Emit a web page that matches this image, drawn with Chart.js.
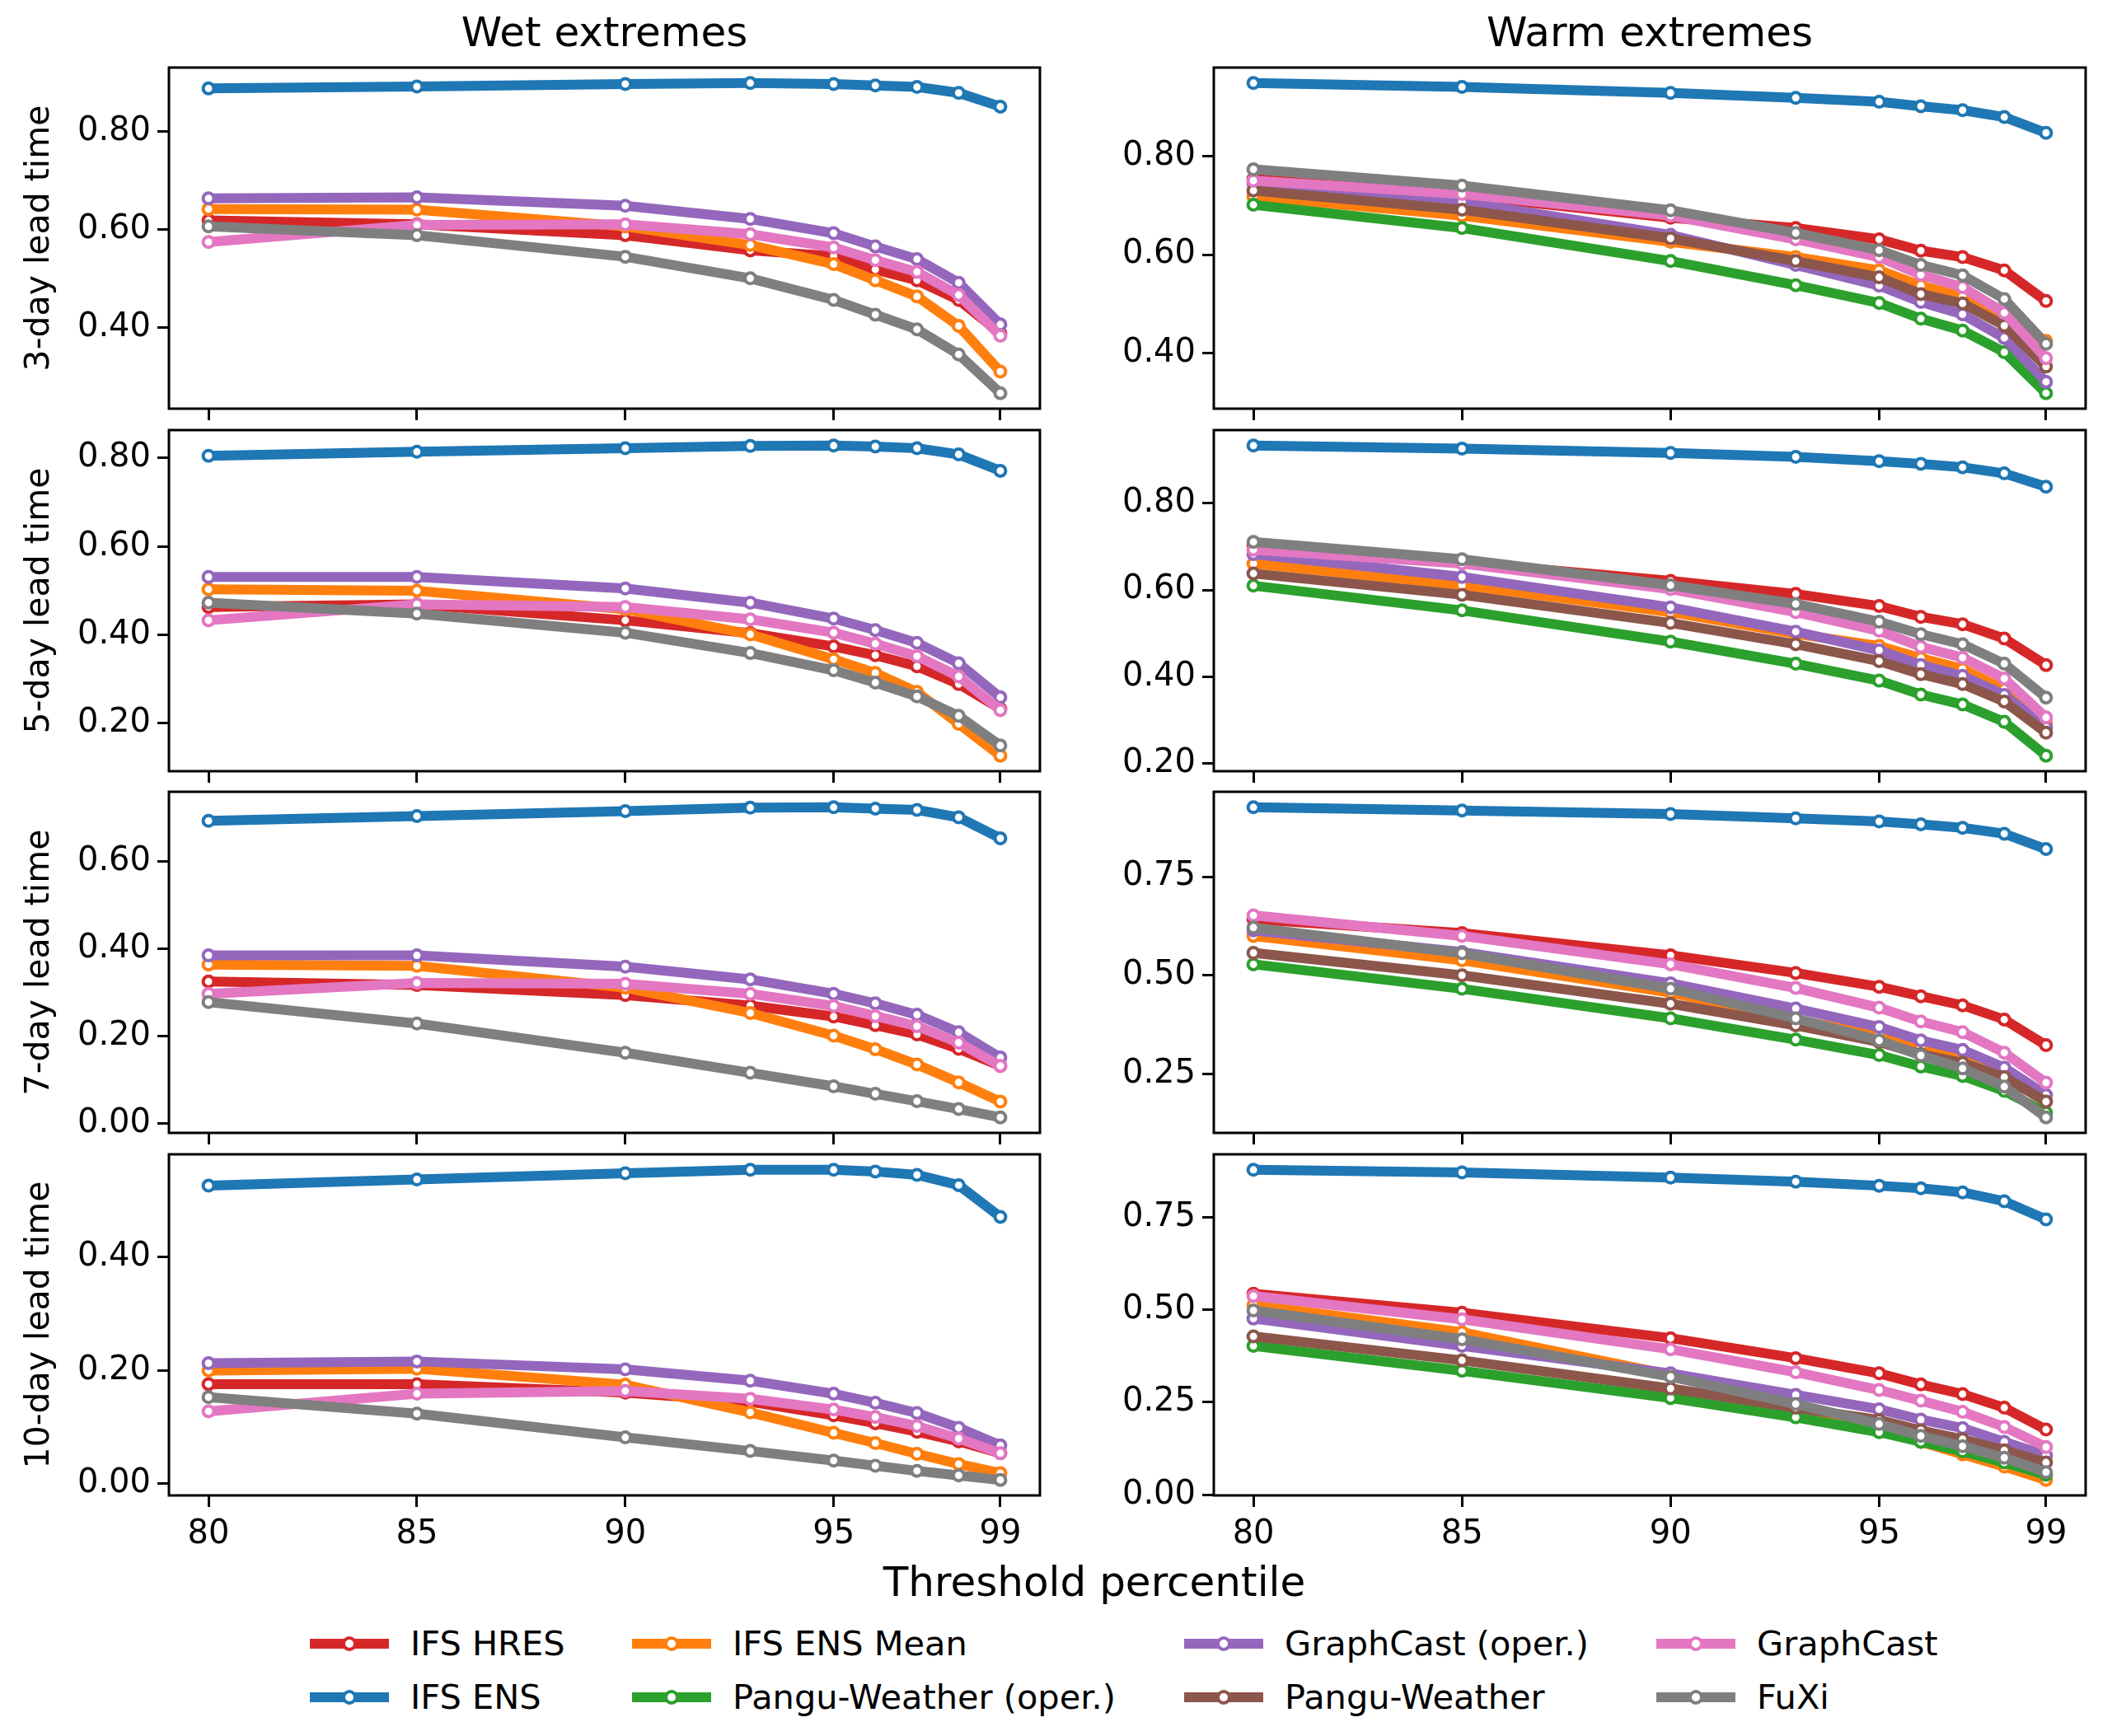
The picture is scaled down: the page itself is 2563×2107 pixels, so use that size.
<!DOCTYPE html>
<html>
<head>
<meta charset="utf-8">
<script src="https://cdn.jsdelivr.net/npm/chart.js@4.4.1/dist/chart.umd.min.js"></script>
<style>
  body { margin: 0; background: #fff; font-family: 'DejaVu Sans', sans-serif; }
  #fig { position: relative; width: 2563px; height: 2107px; overflow: hidden; }
  .panel { position: absolute; }
  .txt { position: absolute; color: #000; white-space: nowrap; line-height: 1; }
  .title { font-size: 50px; transform: translate(-50%, -50%); }
  .ylab { font-size: 41px; transform: translate(-50%, -50%) rotate(-90deg); }
  .leg { position: absolute; height: 60px; }
  .leg .ln { position: absolute; left: 0; top: 24px; width: 96px; height: 12px; }
  .leg .mk { position: absolute; left: 39px; top: 21px; width: 10px; height: 10px; border-radius: 50%; background: #fff; border-width: 4px; border-style: solid; }
  .leg .lt { position: absolute; left: 122px; top: 10px; font-size: 41.5px; line-height: 40px; white-space: nowrap; }
</style>
</head>
<body>
<div id="fig"></div>
<script>
// x positions (threshold percentiles) and axis ticks
const percentiles = [80, 85, 90, 93, 95, 96, 97, 98, 99];
const xTicks = [80, 85, 90, 95, 99];

const models = ['IFS HRES', 'IFS ENS', 'IFS ENS Mean', 'Pangu-Weather (oper.)',
                'GraphCast (oper.)', 'Pangu-Weather', 'GraphCast', 'FuXi'];
const colors = ['#d62728', '#1f77b4', '#ff7f0e', '#2ca02c',
                '#9467bd', '#8c564b', '#e377c2', '#7f7f7f'];

const columnTitles = ['Wet extremes', 'Warm extremes'];
const rowLabels = ['3-day lead time', '5-day lead time', '7-day lead time', '10-day lead time'];

// Wet extremes, 3-day
const wet3Hres   = [0.618, 0.610, 0.588, 0.557, 0.545, 0.518, 0.496, 0.456, 0.388];
const wet3Ens    = [0.887, 0.891, 0.896, 0.898, 0.896, 0.893, 0.890, 0.878, 0.850];
const wet3Mean   = [0.641, 0.640, 0.606, 0.568, 0.529, 0.496, 0.463, 0.403, 0.310];
const wet3GcOper = [0.663, 0.665, 0.648, 0.621, 0.592, 0.565, 0.539, 0.491, 0.406];
const wet3Gc     = [0.574, 0.609, 0.610, 0.590, 0.563, 0.537, 0.513, 0.466, 0.383];
const wet3Fuxi   = [0.606, 0.588, 0.544, 0.500, 0.456, 0.426, 0.396, 0.345, 0.266];
const wet3Ticks  = [0.4, 0.6, 0.8];

// Warm extremes, 3-day
const warm3Hres      = [0.754, 0.720, 0.675, 0.654, 0.631, 0.608, 0.595, 0.568, 0.506];
const warm3Ens       = [0.948, 0.940, 0.928, 0.918, 0.910, 0.901, 0.893, 0.879, 0.847];
const warm3Mean      = [0.718, 0.679, 0.626, 0.595, 0.568, 0.537, 0.515, 0.470, 0.425];
const warm3PanguOper = [0.701, 0.654, 0.587, 0.538, 0.502, 0.470, 0.446, 0.402, 0.319];
const warm3GcOper    = [0.745, 0.707, 0.640, 0.579, 0.537, 0.504, 0.479, 0.431, 0.342];
const warm3Pangu     = [0.730, 0.691, 0.633, 0.587, 0.554, 0.520, 0.501, 0.456, 0.373];
const warm3Gc        = [0.750, 0.723, 0.679, 0.631, 0.595, 0.559, 0.534, 0.482, 0.390];
const warm3Fuxi      = [0.773, 0.740, 0.690, 0.644, 0.609, 0.579, 0.558, 0.510, 0.419];
const warm3Ticks     = [0.4, 0.6, 0.8];

// Wet extremes, 5-day
const wet5Hres   = [0.463, 0.469, 0.433, 0.404, 0.374, 0.354, 0.329, 0.289, 0.233];
const wet5Ens    = [0.805, 0.814, 0.822, 0.827, 0.828, 0.826, 0.822, 0.808, 0.771];
const wet5Mean   = [0.503, 0.500, 0.458, 0.401, 0.345, 0.314, 0.271, 0.199, 0.127];
const wet5GcOper = [0.531, 0.531, 0.505, 0.473, 0.437, 0.411, 0.382, 0.336, 0.259];
const wet5Gc     = [0.433, 0.469, 0.463, 0.435, 0.405, 0.380, 0.352, 0.306, 0.230];
const wet5Fuxi   = [0.473, 0.448, 0.405, 0.359, 0.320, 0.292, 0.261, 0.217, 0.150];
const wet5Ticks  = [0.2, 0.4, 0.6, 0.8];

// Warm extremes, 5-day
const warm5Hres      = [0.702, 0.664, 0.621, 0.591, 0.563, 0.538, 0.521, 0.488, 0.427];
const warm5Ens       = [0.933, 0.926, 0.916, 0.907, 0.897, 0.891, 0.883, 0.869, 0.838];
const warm5Mean      = [0.661, 0.611, 0.549, 0.499, 0.471, 0.443, 0.418, 0.371, 0.293];
const warm5PanguOper = [0.610, 0.553, 0.481, 0.430, 0.391, 0.359, 0.336, 0.296, 0.218];
const warm5GcOper    = [0.683, 0.630, 0.560, 0.504, 0.461, 0.427, 0.402, 0.358, 0.283];
const warm5Pangu     = [0.638, 0.589, 0.524, 0.475, 0.436, 0.406, 0.383, 0.343, 0.271];
const warm5Gc        = [0.693, 0.661, 0.602, 0.549, 0.506, 0.469, 0.444, 0.396, 0.306];
const warm5Fuxi      = [0.711, 0.671, 0.611, 0.568, 0.527, 0.498, 0.475, 0.430, 0.352];
const warm5Ticks     = [0.2, 0.4, 0.6, 0.8];

// Wet extremes, 7-day
const wet7Hres   = [0.325, 0.317, 0.294, 0.270, 0.245, 0.225, 0.204, 0.171, 0.132];
const wet7Ens    = [0.693, 0.704, 0.715, 0.723, 0.724, 0.721, 0.718, 0.701, 0.653];
const wet7Mean   = [0.364, 0.361, 0.311, 0.253, 0.201, 0.170, 0.135, 0.094, 0.050];
const wet7GcOper = [0.385, 0.385, 0.359, 0.330, 0.297, 0.275, 0.249, 0.209, 0.151];
const wet7Gc     = [0.297, 0.322, 0.320, 0.297, 0.269, 0.246, 0.223, 0.185, 0.132];
const wet7Fuxi   = [0.278, 0.229, 0.162, 0.116, 0.085, 0.068, 0.051, 0.033, 0.014];
const wet7Ticks  = [0.0, 0.2, 0.4, 0.6];

// Warm extremes, 7-day
const warm7Hres      = [0.642, 0.607, 0.551, 0.506, 0.471, 0.447, 0.424, 0.388, 0.323];
const warm7Ens       = [0.926, 0.918, 0.909, 0.898, 0.890, 0.883, 0.874, 0.859, 0.820];
const warm7Mean      = [0.600, 0.538, 0.456, 0.387, 0.349, 0.318, 0.287, 0.245, 0.180];
const warm7PanguOper = [0.528, 0.466, 0.391, 0.337, 0.298, 0.269, 0.245, 0.207, 0.152];
const warm7GcOper    = [0.614, 0.559, 0.480, 0.416, 0.369, 0.335, 0.311, 0.266, 0.197];
const warm7Pangu     = [0.557, 0.500, 0.428, 0.373, 0.331, 0.300, 0.278, 0.242, 0.180];
const warm7Gc        = [0.652, 0.600, 0.528, 0.468, 0.418, 0.383, 0.356, 0.304, 0.228];
const warm7Fuxi      = [0.621, 0.556, 0.466, 0.391, 0.335, 0.297, 0.264, 0.218, 0.140];
const warm7Ticks     = [0.25, 0.5, 0.75];

// Wet extremes, 10-day
const wet10Hres   = [0.176, 0.176, 0.161, 0.145, 0.121, 0.107, 0.092, 0.075, 0.054];
const wet10Ens    = [0.526, 0.537, 0.548, 0.554, 0.554, 0.551, 0.545, 0.527, 0.471];
const wet10Mean   = [0.200, 0.203, 0.175, 0.126, 0.090, 0.072, 0.053, 0.035, 0.019];
const wet10GcOper = [0.213, 0.216, 0.202, 0.182, 0.159, 0.143, 0.125, 0.099, 0.068];
const wet10Gc     = [0.128, 0.159, 0.164, 0.150, 0.131, 0.118, 0.102, 0.080, 0.054];
const wet10Fuxi   = [0.153, 0.124, 0.082, 0.058, 0.041, 0.032, 0.023, 0.015, 0.007];
const wet10Ticks  = [0.0, 0.2, 0.4];

// Warm extremes, 10-day
const warm10Hres      = [0.543, 0.492, 0.423, 0.369, 0.328, 0.298, 0.272, 0.235, 0.176];
const warm10Ens       = [0.878, 0.871, 0.857, 0.846, 0.835, 0.828, 0.817, 0.793, 0.744];
const warm10Mean      = [0.513, 0.439, 0.324, 0.239, 0.180, 0.143, 0.109, 0.076, 0.040];
const warm10PanguOper = [0.402, 0.335, 0.261, 0.209, 0.169, 0.143, 0.117, 0.087, 0.054];
const warm10GcOper    = [0.476, 0.402, 0.328, 0.270, 0.231, 0.203, 0.180, 0.143, 0.106];
const warm10Pangu     = [0.428, 0.363, 0.287, 0.235, 0.202, 0.174, 0.150, 0.120, 0.087];
const warm10Gc        = [0.537, 0.474, 0.393, 0.331, 0.283, 0.254, 0.224, 0.183, 0.129];
const warm10Fuxi      = [0.498, 0.420, 0.319, 0.245, 0.191, 0.159, 0.131, 0.100, 0.061];
const warm10Ticks     = [0.0, 0.25, 0.5, 0.75];

// panels in reading order, series in the same order as `models` (null = not shown)
const panels = [
  [[wet3Hres, wet3Ens, wet3Mean, null, wet3GcOper, null, wet3Gc, wet3Fuxi], wet3Ticks],
  [[warm3Hres, warm3Ens, warm3Mean, warm3PanguOper, warm3GcOper, warm3Pangu, warm3Gc, warm3Fuxi], warm3Ticks],
  [[wet5Hres, wet5Ens, wet5Mean, null, wet5GcOper, null, wet5Gc, wet5Fuxi], wet5Ticks],
  [[warm5Hres, warm5Ens, warm5Mean, warm5PanguOper, warm5GcOper, warm5Pangu, warm5Gc, warm5Fuxi], warm5Ticks],
  [[wet7Hres, wet7Ens, wet7Mean, null, wet7GcOper, null, wet7Gc, wet7Fuxi], wet7Ticks],
  [[warm7Hres, warm7Ens, warm7Mean, warm7PanguOper, warm7GcOper, warm7Pangu, warm7Gc, warm7Fuxi], warm7Ticks],
  [[wet10Hres, wet10Ens, wet10Mean, null, wet10GcOper, null, wet10Gc, wet10Fuxi], wet10Ticks],
  [[warm10Hres, warm10Ens, warm10Mean, warm10PanguOper, warm10GcOper, warm10Pangu, warm10Gc, warm10Fuxi], warm10Ticks]
];

// layout (page pixels)
const axLeft = [205, 1473];
const axWidth = [1057, 1058];
const axTop = [82, 522, 961, 1401];
const axHeight = 414;
const YW = 200, PT = 40, PR = 40;

Chart.defaults.font.family = "'DejaVu Sans', sans-serif";
Chart.defaults.color = '#000';

const frame = {
  id: 'frame',
  afterDraw(chart) {
    const a = chart.chartArea, ctx = chart.ctx;
    ctx.save();
    ctx.strokeStyle = '#000';
    ctx.lineWidth = 3;
    ctx.strokeRect(a.left, a.top, a.right - a.left, a.bottom - a.top);
    ctx.restore();
  }
};

function padRange(vals) {
  const lo = Math.min(...vals), hi = Math.max(...vals);
  const m = (hi - lo) * 0.05;
  return [lo - m, hi + m];
}

const fig = document.getElementById('fig');
const [xMin, xMax] = padRange(percentiles);

panels.forEach(([series, yTicks], i) => {
  const row = Math.floor(i / 2), col = i % 2;
  const bottom = row === 3;
  const XH = bottom ? 95 : 45;
  const w = YW + axWidth[col] + PR;
  const h = PT + axHeight + XH;

  const box = document.createElement('div');
  box.className = 'panel';
  box.style.left = (axLeft[col] - YW) + 'px';
  box.style.top = (axTop[row] - PT) + 'px';
  const cv = document.createElement('canvas');
  cv.width = w; cv.height = h;
  cv.style.width = w + 'px'; cv.style.height = h + 'px';
  box.appendChild(cv);
  fig.appendChild(box);

  const allVals = series.filter(s => s).flat();
  const [yMin, yMax] = padRange(allVals);

  const datasets = [];
  series.forEach((vals, k) => {
    if (!vals) return;
    datasets.push({
      label: models[k],
      data: percentiles.map((p, j) => ({ x: p, y: vals[j] })),
      borderColor: colors[k],
      backgroundColor: colors[k],
      borderWidth: 12,
      pointRadius: 6.5,
      pointBorderWidth: 4,
      pointBackgroundColor: '#fff',
      pointBorderColor: colors[k],
      tension: 0,
      order: models.length - k
    });
  });

  new Chart(cv, {
    type: 'line',
    data: { datasets },
    options: {
      responsive: false,
      animation: false,
      events: [],
      devicePixelRatio: 1,
      layout: { padding: { top: PT, right: PR, left: 0, bottom: 0 } },
      plugins: { legend: { display: false }, tooltip: { enabled: false } },
      scales: {
        x: {
          type: 'linear', min: xMin, max: xMax,
          afterFit: s => { s.height = XH; },
          afterBuildTicks: s => { s.ticks = xTicks.map(v => ({ value: v })); },
          border: { display: false },
          grid: { drawOnChartArea: false, drawTicks: true, tickLength: 14, color: '#000', lineWidth: 3 },
          ticks: {
            font: { size: 40 }, padding: 10, maxRotation: 0, autoSkip: false,
            callback: v => bottom ? String(v) : ''
          }
        },
        y: {
          type: 'linear', min: yMin, max: yMax,
          afterFit: s => { s.width = YW; },
          afterBuildTicks: s => { s.ticks = yTicks.map(v => ({ value: v })); },
          border: { display: false },
          grid: { drawOnChartArea: false, drawTicks: true, tickLength: 14, color: '#000', lineWidth: 3 },
          ticks: { font: { size: 40 }, padding: 8, callback: v => v.toFixed(2) }
        }
      }
    },
    plugins: [frame]
  });
});

// text: column titles, row labels, shared x label
function addText(cls, txt, x, y) {
  const d = document.createElement('div');
  d.className = 'txt ' + cls;
  d.textContent = txt;
  d.style.left = x + 'px';
  d.style.top = y + 'px';
  fig.appendChild(d);
}
columnTitles.forEach((t, c) => addText('title', t, axLeft[c] + axWidth[c] / 2, 39));
rowLabels.forEach((t, r) => addText('ylab', t, 45, axTop[r] + axHeight / 2));
addText('title', 'Threshold percentile', 1328, 1920);

// legend: 4 columns, filled column by column
const legX = [376, 767, 1437, 2010];
const legY = [1965, 2030];
models.forEach((m, k) => {
  const d = document.createElement('div');
  d.className = 'leg';
  d.style.left = legX[Math.floor(k / 2)] + 'px';
  d.style.top = legY[k % 2] + 'px';
  d.innerHTML = '<div class="ln" style="background:' + colors[k] + '"></div>' +
                '<div class="mk" style="border-color:' + colors[k] + '"></div>' +
                '<div class="lt">' + m + '</div>';
  fig.appendChild(d);
});
</script>
</body>
</html>
